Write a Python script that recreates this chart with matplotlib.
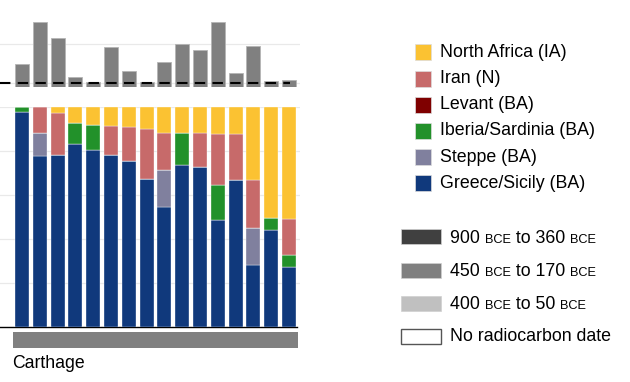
import matplotlib
matplotlib.use("Agg")
import matplotlib.pyplot as plt
import numpy as np
from matplotlib.patches import Rectangle

plt.rcParams["font.family"] = ["Liberation Sans", "DejaVu Sans"]

# ancestry proportions per individual (bottom -> top)
greece = [0.976, 0.776, 0.780, 0.830, 0.806, 0.780, 0.755, 0.674,
          0.547, 0.735, 0.726, 0.485, 0.670, 0.283, 0.441, 0.274]
steppe = [0, 0.104, 0, 0, 0, 0, 0, 0,
          0.165, 0, 0, 0, 0, 0.165, 0, 0]
iberia = [0.024, 0, 0, 0.096, 0.112, 0, 0, 0,
          0, 0.148, 0, 0.160, 0, 0, 0.056, 0.055]
levant = [0] * 16
iran = [0, 0.120, 0.194, 0, 0, 0.134, 0.154, 0.226,
        0.171, 0, 0.156, 0.234, 0.206, 0.219, 0, 0.163]
north_africa = [0, 0, 0.026, 0.074, 0.082, 0.086, 0.091, 0.100,
                0.117, 0.117, 0.118, 0.121, 0.124, 0.333, 0.503, 0.508]

# top panel values (arbitrary units, dashed line at 0)
top_vals = [0.495, 1.556, 1.154, 0.146, 0.03, 0.931, 0.316, 0.03,
            0.538, 1.0, 0.846, 1.57, 0.265, 0.949, 0.05, 0.077]

components = [
    ("Greece/Sicily (BA)", greece, "#10397c"),
    ("Steppe (BA)", steppe, "#80809e"),
    ("Iberia/Sardinia (BA)", iberia, "#22912a"),
    ("Levant (BA)", levant, "#7f0000"),
    ("Iran (N)", iran, "#c76a6a"),
    ("North Africa (IA)", north_africa, "#fbc232"),
]
date_legend = [
    ("900 ", "BCE", " to 360 ", "BCE", "#404040"),
    ("450 ", "BCE", " to 170 ", "BCE", "#808080"),
    ("400 ", "BCE", " to 50 ", "BCE", "#c0c0c0"),
]
group_label = "Carthage"

W, H = 630, 382
fig = plt.figure(figsize=(W / 100, H / 100), dpi=100)

def px_axes(x0, y0, x1, y1):
    # pixel box (top-left origin) -> figure axes
    return fig.add_axes([x0 / W, 1 - y1 / H, (x1 - x0) / W, (y1 - y0) / H])

n = len(greece)
x = np.arange(n)
width = 0.79
xlim = (-1.236, 15.62)

# main stacked bar chart
ax = px_axes(0, 107, 300, 327)
bottom = np.zeros(n)
for name, vals, col in components:
    v = np.array(vals, dtype=float)
    ax.bar(x, v, width, bottom=bottom, color=col, edgecolor="#ffffff",
           linewidth=0.25, zorder=3)
    bottom += v
ax.set_xlim(*xlim)
ax.set_ylim(0, 1)
ax.set_yticks([0.2, 0.4, 0.6, 0.8, 1.0])
ax.grid(axis="y", color="#e9e9e9", linewidth=0.9, zorder=0)
ax.tick_params(left=False, bottom=False, labelleft=False, labelbottom=False)
for s in ["top", "right", "left"]:
    ax.spines[s].set_visible(False)
ax.spines["bottom"].set_color("black")
ax.spines["bottom"].set_linewidth(1.0)
ax.spines["bottom"].set_bounds(xlim[0], n - 0.55)

# top panel
ax_top = px_axes(0, 5, 300, 86.5)
ymin = -0.09
ax_top.bar(x, np.array(top_vals) - ymin, width, bottom=ymin, color="#808080",
           edgecolor="#b5b5b5", linewidth=0.6, zorder=3)
ax_top.axhline(0, xmin=0, xmax=0.965, color="black", linewidth=1.5,
               dashes=(5, 3.5), zorder=4)
ax_top.set_xlim(*xlim)
ax_top.set_ylim(ymin, 2.0)
ax_top.set_yticks([0, 1])
ax_top.grid(axis="y", color="#e9e9e9", linewidth=0.9, zorder=0)
ax_top.tick_params(left=False, bottom=False, labelleft=False, labelbottom=False)
for s in ax_top.spines.values():
    s.set_visible(False)

# group band under the bars
ax_band = px_axes(0, 332, 300, 348)
ax_band.axvspan(-0.5, n - 0.5, color="#808080", linewidth=0)
ax_band.set_xlim(*xlim)
ax_band.axis("off")
fig.text(12 / W, 1 - 363 / H, group_label, fontsize=12.7, va="center", ha="left")

# legend drawn in a pixel-space overlay
leg = fig.add_axes([0, 0, 1, 1])
leg.set_xlim(0, W)
leg.set_ylim(H, 0)
leg.axis("off")

FS = 12.8
y0, dy = 52.3, 26.2
for i, (name, vals, col) in enumerate(components[::-1]):
    yc = y0 + i * dy
    leg.add_patch(Rectangle((415, yc - 8), 16, 16, facecolor=col,
                            edgecolor="#dddddd", linewidth=0.5))
    leg.text(440.5, yc, name, fontsize=FS, va="center", ha="left")

renderer = fig.canvas.get_renderer()

def rich_text(xs, yc, parts):
    for txt, size in parts:
        t = leg.text(xs, yc, txt, fontsize=size, va="baseline", ha="left")
        bb = t.get_window_extent(renderer=renderer)
        xs += bb.width

y0, dy = 236.7, 33.3
for i, (a, b, c, d, col) in enumerate(date_legend):
    yc = y0 + i * dy
    leg.add_patch(Rectangle((401, yc - 7.5), 40, 15, facecolor=col,
                            edgecolor="#d0d0d0", linewidth=0.5))
    rich_text(450, yc + 6, [(a, FS), (b, 9.2), (c, FS), (d, 9.2)])
yc = y0 + 3 * dy
leg.add_patch(Rectangle((401, yc - 7.5), 40, 15, facecolor="white",
                        edgecolor="#555555", linewidth=1.0))
leg.text(450, yc, "No radiocarbon date", fontsize=FS, va="center", ha="left")

fig.savefig("out.png", dpi=100)
